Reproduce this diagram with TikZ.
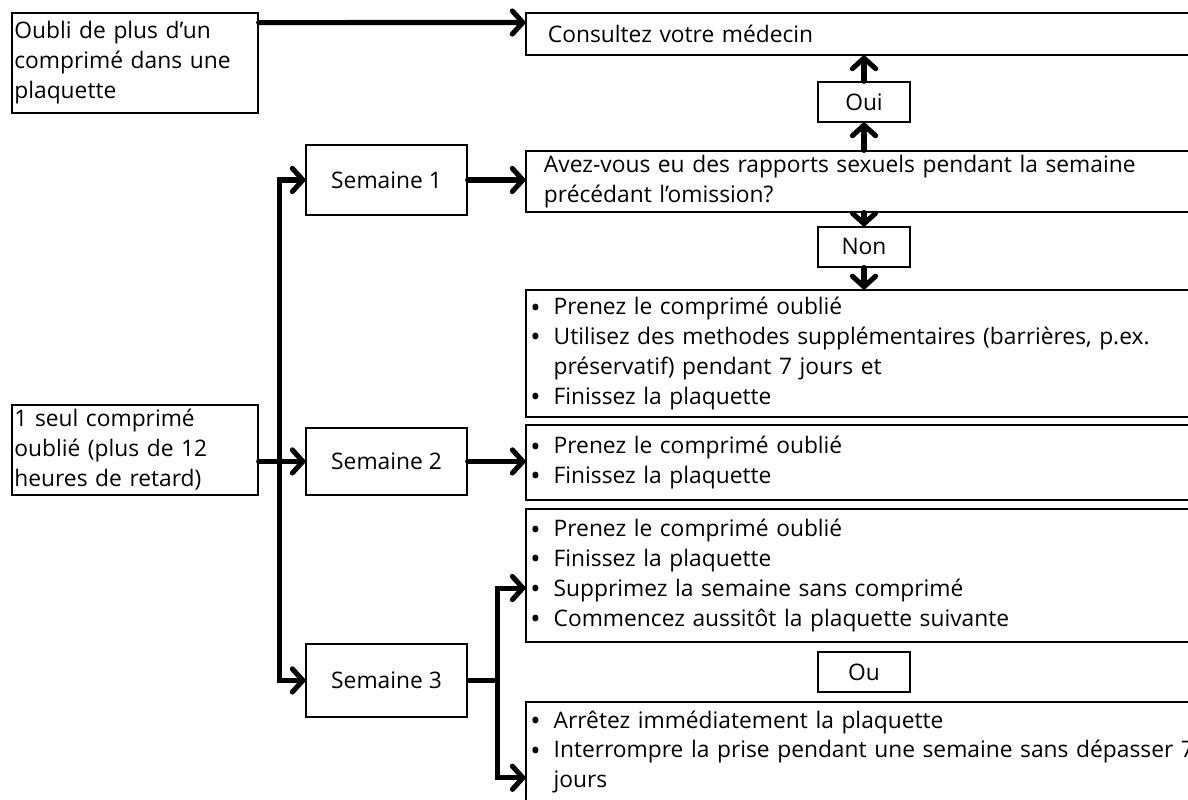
\documentclass[tikz,border=0pt]{standalone}
\usepackage{fontspec}
\setmainfont{Open Sans}
\usetikzlibrary{positioning, arrows.meta, calc}
\newcommand{\itm}{\makebox[0.39cm][l]{\raisebox{-1.2pt}{\fontsize{13pt}{13pt}\selectfont•}}}
\newcommand{\ind}{\hspace*{0.39cm}}

\begin{document}
\begin{tikzpicture}[x=1cm, y=1cm, >={Straight Barb[round, length=5pt, width=11pt]}, font=\fontsize{10.8pt}{14.2pt}\selectfont,
	box/.style={draw, line width=0.6pt, inner ysep=0pt, align=left},
	tag/.style={draw, line width=0.6pt, inner sep=0pt, minimum width=1.533cm, minimum height=0.667cm},
	week/.style={draw, line width=0.6pt, inner sep=0pt, minimum width=2.683cm},
	flow/.style={->, line width=2.4pt, line cap=round}]
	\useasboundingbox (0,0) rectangle (19.8,13.333);
	\clip (0,0) rectangle (19.8,13.333);
	\node[box, inner xsep=0.04cm, text width=4.02cm, minimum height=1.667cm] (ob) at (2.25,12.283) {Oubli de plus d’un\\ comprimé dans une\\ plaquette};
	\node[box, inner xsep=0.04cm, text width=4.02cm, minimum height=1.5cm] (un) at (2.25,5.833) {1 seul comprimé\\ oublié (plus de 12\\ heures de retard)};
	\node[box, inner xsep=0.367cm, text width=10.6cm, minimum height=0.7cm] (md) at (14.433,12.767) {Consultez votre médecin};
	\node[tag] (oui) at (14.4,11.633) {Oui};
	\node[box, inner xsep=0.3cm, text width=10.733cm, minimum height=1.017cm] (qs) at (14.433,10.308) {Avez-vous eu des rapports sexuels pendant la semaine\\ précédant l’omission?};
	\node[tag] (non) at (14.4,9.217) {Non};
	\node[box, inner xsep=0.07cm, text width=11.19cm, minimum height=2.117cm] (pw1) at (14.433,7.442) {\itm Prenez le comprimé oublié\\ \itm Utilisez des methodes supplémentaires (barrières, p.ex.\\ \ind préservatif) pendant 7 jours et\\ \itm Finissez la plaquette};
	\node[box, inner xsep=0.07cm, text width=11.19cm, minimum height=1.25cm] (pw2) at (14.433,5.625) {\itm Prenez le comprimé oublié\\ \itm Finissez la plaquette};
	\node[box, inner xsep=0.07cm, text width=11.19cm, minimum height=2.217cm] (pw3) at (14.433,3.742) {\itm Prenez le comprimé oublié\\ \itm Finissez la plaquette\\ \itm Supprimez la semaine sans comprimé\\ \itm Commencez aussitôt la plaquette suivante};
	\node[tag] (ou) at (14.4,2.133) {Ou};
	\node[box, inner xsep=0.07cm, text width=11.19cm, minimum height=1.667cm] (pw4) at (14.433,0.8) {\itm Arrêtez immédiatement la plaquette\\ \itm Interrompre la prise pendant une semaine sans dépasser 7\\ \ind jours};
	\node[week, minimum height=1.167cm] (s1) at (6.442,10.333) {Semaine 1};
	\node[week, minimum height=1.117cm] (s2) at (6.442,5.642) {Semaine 2};
	\node[week, minimum height=1.217cm] (s3) at (6.442,1.992) {Semaine 3};
	\coordinate (split) at ($(s2.west)+(-0.43,0)$);
	\coordinate (fork) at ($(s3.east)+(0.5,0)$);
	\draw[flow] ([yshift=-0.17cm]ob.north east) -- ([yshift=-0.17cm]md.north west);
	\draw[flow] (oui.north) -- (oui.north |- md.south);
	\draw[flow] (oui.south |- qs.north) -- (oui.south);
	\draw[flow] (non.north |- qs.south) -- (non.north);
	\draw[flow] (non.south) -- (non.south |- pw1.north);
	\draw[flow] (s1.east) -- (s1.east -| qs.west);
	\draw[flow] (s2.east) -- (s2.east -| pw2.west);
	\draw[flow] (un.east |- s2.west) -- (s2.west);
	\draw[flow] (split |- s3.west) |- (s1.west);
	\draw[flow] (split) |- (s3.west);
	\draw[line width=2.4pt] (s3.east) -- (fork);
	\draw[flow] (fork) |- ([yshift=-0.21cm]pw3.west);
	\draw[flow] (fork) |- ([yshift=-0.43cm]pw4.west);
\end{tikzpicture}
\end{document}
